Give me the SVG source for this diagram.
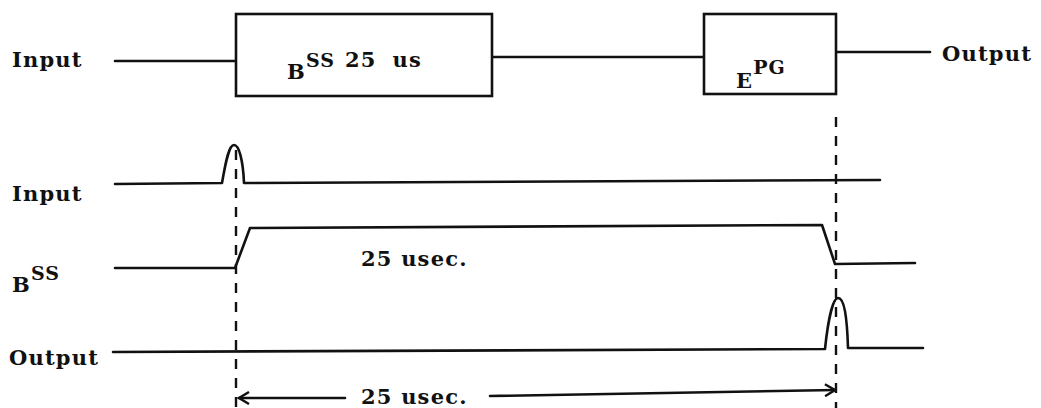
<svg xmlns="http://www.w3.org/2000/svg" width="1041" height="408" viewBox="0 0 1041 408">
<style>
.t{font-family:"DejaVu Serif","Liberation Serif",serif;font-weight:bold;font-size:21px;letter-spacing:1.2px;fill:#111}
.s{font-size:19px;letter-spacing:1px}
.ln{stroke:#111;stroke-width:2.6;fill:none;stroke-linecap:round;stroke-linejoin:round}
.bx{stroke:#111;stroke-width:2.6;fill:#fff}
.d{stroke:#111;stroke-width:2.4;fill:none;stroke-dasharray:10 9}
</style>
<defs>
<marker id="ah" markerWidth="14" markerHeight="14" refX="12" refY="7" orient="auto-start-reverse" markerUnits="userSpaceOnUse">
<path d="M2,1 L12,7 L2,13" fill="none" stroke="#111" stroke-width="2.4"/>
</marker>
</defs>
<g id="connectors">
<line class="ln" x1="115" y1="61" x2="236" y2="61"/>
<line class="ln" x1="492" y1="57" x2="704" y2="57"/>
<line class="ln" x1="836" y1="52" x2="930" y2="52"/>
<line class="d" x1="836" y1="117" x2="836" y2="408"/>
<line class="d" x1="236" y1="150" x2="236" y2="408"/>
<path class="ln" d="M115,184 L222,183 C226,160 229,145 234,145 C239,145 243,160 244,183 L880,180"/>
<path class="ln" d="M115,268 L235,268 L250,228 L822,225 L835,264 L915,263"/>
<path class="ln" d="M113,352 L825,349 C828,320 833,298 838,298 C844,298 847,315 848,348 L923,348"/>
<line class="ln" x1="345" y1="398" x2="239" y2="398" marker-end="url(#ah)"/>
<line class="ln" x1="490" y1="396" x2="835" y2="390" marker-end="url(#ah)"/>
</g>
<g id="input-label"><text class="t" x="12" y="67">Input</text></g>
<g id="bss-box">
<rect class="bx" x="236" y="14" width="256" height="82"/>
<text class="t" x="287" y="79">B<tspan class="s" dy="-12">SS</tspan><tspan dx="10">25</tspan><tspan dx="16">us</tspan></text>
</g>
<g id="epg-box">
<rect class="bx" x="704" y="14" width="132" height="80"/>
<text class="t" x="736" y="88">E<tspan class="s" dy="-14">PG</tspan></text>
</g>
<g id="output-label"><text class="t" x="942" y="61">Output</text></g>
<g id="timing-labels">
<text class="t" x="12" y="201">Input</text>
<text class="t" x="12" y="292">B<tspan class="s" dy="-12">SS</tspan></text>
<text class="t" x="9" y="365">Output</text>
<text class="t" x="361" y="266">25 usec.</text>
<text class="t" x="361" y="404">25 usec.</text>
</g>
</svg>
